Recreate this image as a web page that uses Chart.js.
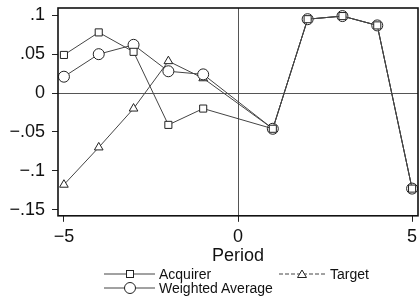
<!DOCTYPE html>
<html>
<head>
<meta charset="utf-8">
<script src="https://cdn.jsdelivr.net/npm/chart.js@4.4.1/dist/chart.umd.min.js"></script>
<style>
  html, body { margin: 0; padding: 0; background: #fff; overflow: hidden; }
  #wrap { position: relative; width: 419px; height: 297px; }
  #legend { position: absolute; left: 0; top: 0; width: 419px; height: 297px; pointer-events: none;
    font-family: "Liberation Sans", Arial, sans-serif; font-size: 14px; color: #111; }
  .item { position: absolute; height: 16px; line-height: 16px; white-space: nowrap; }
  .item svg { position: absolute; left: 0; top: 0; }
  .item span { position: absolute; top: 0; }
</style>
</head>
<body>
<div id="wrap">
  <canvas id="c" width="419" height="297"></canvas>
  <div id="legend"></div>
</div>
<script>
const periods = [-5, -4, -3, -2, -1, 1, 2, 3, 4, 5];
const acquirer = [0.049, 0.078, 0.053, -0.041, -0.020, -0.046, 0.095, 0.099, 0.087, -0.123];
const target = [-0.118, -0.070, -0.020, 0.041, 0.019, -0.046, 0.095, 0.099, 0.087, -0.123];
const weightedAverage = [0.021, 0.050, 0.062, 0.028, 0.024, -0.046, 0.095, 0.099, 0.087, -0.123];
const xTicks = [-5, 0, 5];
const yTicks = [-0.15, -0.1, -0.05, 0, 0.05, 0.1];
const yTickLabels = ["\u2212.15", "\u2212.1", "\u2212.05", "0", ".05", ".1"];
const seriesLabels = ["Acquirer", "Target", "Weighted Average"];

const toXY = vals => periods.map((p, i) => ({ x: p, y: vals[i] }));
const lineCol = '#444';

const frame = {
  id: 'frame',
  afterDraw(chart) {
    const a = chart.chartArea, ctx = chart.ctx;
    ctx.save();
    ctx.strokeStyle = '#111';
    ctx.lineWidth = 1.6;
    ctx.strokeRect(a.left, a.top, a.right - a.left, a.bottom - a.top);
    ctx.restore();
  }
};

const common = {
  showLine: true,
  borderColor: lineCol,
  borderWidth: 1,
  pointBackgroundColor: '#fff',
  pointBorderColor: '#222',
  pointBorderWidth: 1,
  pointRadius: 5,
  tension: 0,
  clip: false
};

new Chart(document.getElementById('c'), {
  type: 'scatter',
  data: {
    datasets: [
      Object.assign({}, common, { label: seriesLabels[0], data: toXY(acquirer), pointStyle: 'rect', pointRadius: 5, order: 1 }),
      Object.assign({}, common, { label: seriesLabels[1], data: toXY(target), pointStyle: 'triangle', pointRadius: 5, order: 3 }),
      Object.assign({}, common, { label: seriesLabels[2], data: toXY(weightedAverage), pointStyle: 'circle', pointRadius: 5.5, order: 2 })
    ]
  },
  options: {
    responsive: false,
    animation: false,
    layout: { autoPadding: false, padding: { left: 0, right: 1, top: 8, bottom: 30 } },
    plugins: { legend: { display: false }, tooltip: { enabled: false } },
    scales: {
      x: {
        type: 'linear',
        min: -5.17, max: 5.17,
        afterBuildTicks: s => { s.ticks = xTicks.map(v => ({ value: v })); },
        afterFit: s => { s.paddingLeft = 0; s.paddingRight = 0; },
        grid: {
          color: c => (c.tick && c.tick.value === 0) ? '#555' : 'rgba(0,0,0,0)',
          tickColor: '#222',
          tickLength: 6,
          lineWidth: 1
        },
        border: { display: false },
        ticks: { color: '#111', font: { family: 'Liberation Sans', size: 18 }, padding: 4, maxRotation: 0,
          callback: v => (v < 0 ? '\u2212' + Math.abs(v) : String(v)) },
        title: { display: true, text: 'Period', color: '#111', font: { family: 'Liberation Sans', size: 18 }, padding: { top: -6, bottom: 0 } }
      },
      y: {
        type: 'linear',
        min: -0.158, max: 0.1094,
        afterBuildTicks: s => { s.ticks = yTicks.map(v => ({ value: v })); },
        grid: {
          color: c => (c.tick && Math.abs(c.tick.value) < 1e-9) ? '#555' : 'rgba(0,0,0,0)',
          tickColor: '#222',
          tickLength: 6,
          lineWidth: 1
        },
        border: { display: false },
        afterFit: s => { s.width = 58; s.paddingTop = 0; s.paddingBottom = 0; },
        ticks: { color: '#111', font: { family: 'Liberation Sans', size: 18 }, padding: 7,
          callback: v => { const i = yTicks.findIndex(t => Math.abs(t - v) < 1e-9); return i >= 0 ? yTickLabels[i] : ''; } }
      }
    }
  },
  plugins: [frame]
});

// HTML legend
const legend = document.getElementById('legend');
const items = [
  { label: seriesLabels[0], left: 104, top: 266, marker: 'rect', dash: '' },
  { label: seriesLabels[1], left: 279, top: 266, marker: 'triangle', dash: '4,2' },
  { label: seriesLabels[2], left: 104, top: 280, marker: 'circle', dash: '' }
];
items.forEach(it => {
  const d = document.createElement('div');
  d.className = 'item';
  d.style.left = it.left + 'px';
  d.style.top = it.top + 'px';
  let m = '';
  if (it.marker === 'rect') m = '<rect x="22.5" y="4.5" width="7" height="7" fill="#fff" stroke="#222" stroke-width="1"/>';
  if (it.marker === 'triangle') m = '<polygon points="23,4 27.5,11.5 18.5,11.5" fill="#fff" stroke="#222" stroke-width="1"/>';
  if (it.marker === 'circle') m = '<circle cx="26" cy="8" r="5.5" fill="#fff" stroke="#222" stroke-width="1"/>';
  const w = it.marker === 'triangle' ? 47 : 51;
  d.innerHTML = '<svg width="' + w + '" height="16"><line x1="0" y1="8" x2="' + w + '" y2="8" stroke="#444" stroke-width="1" ' +
    (it.dash ? 'stroke-dasharray="' + it.dash + '"' : '') + '/>' + m + '</svg><span style="left:' + (w + 4) + 'px">' + it.label + '</span>';
  legend.appendChild(d);
});
</script>
</body>
</html>
